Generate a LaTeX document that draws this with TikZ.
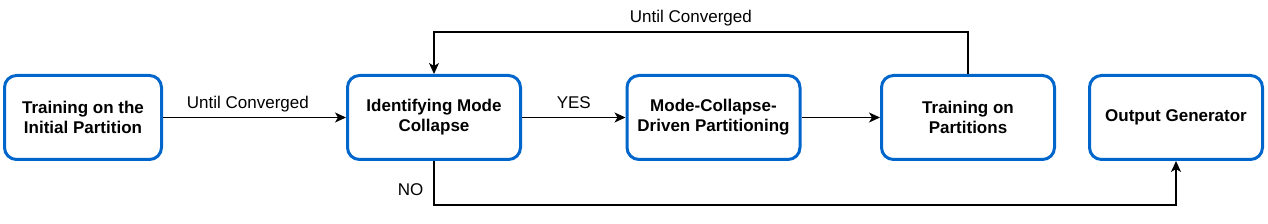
\documentclass[tikz,border=0pt]{standalone}
\usepackage{fontspec}
\setmainfont{Liberation Sans}
\usetikzlibrary{arrows.meta}

\definecolor{azulBorde}{HTML}{0066CC}

\newcommand{\coordFlujo}{
\coordinate (P1) at (83,117.5);
\coordinate (P2) at (434,117.5);
\coordinate (P3) at (713.5,117.5);
\coordinate (P4) at (968,117.5);
\coordinate (P5) at (1176,117.5);
}
\tikzset{
caja/.style={draw=azulBorde,line width=3pt,rounded corners=12pt,fill=white,minimum width=173pt,minimum height=84pt,align=center,font=\fontsize{17}{20}\selectfont\bfseries},
flecha/.style={black,line width=1.3pt,-{Stealth[length=11pt,width=10pt,inset=3pt]}},
rotulo/.style={font=\fontsize{17}{20}\selectfont,inner sep=0pt,text depth=0pt}
}

\begin{document}
\begin{tikzpicture}[x=1pt,y=-1pt]
    \useasboundingbox (0,0) rectangle (1268,224);
    \coordFlujo

    \node[caja,minimum width=157pt] (inicial) at (P1) {Training on the\\Initial Partition};
    \node[caja] (colapso) at (P2) {Identifying Mode\\Collapse};
    \node[caja] (particion) at (P3) {Mode-Collapse-\\Driven Partitioning};
    \node[caja] (entrenamiento) at (P4) {Training on\\Partitions};
    \node[caja] (salida) at (P5) {Output Generator};

    \draw[flecha] (inicial) -- node[rotulo,above=8pt,pos=0.464]{Until Converged} (colapso);
    \draw[flecha] (colapso) -- node[rotulo,above=8pt]{YES} (particion);
    \draw[flecha] (particion) -- (entrenamiento);
    \draw[flecha] (entrenamiento.north) -- (entrenamiento.north |- 0,32)
        -- node[rotulo,above=9pt,pos=0.519]{Until Converged} (colapso.north |- 0,32) -- (colapso.north);
    \draw[flecha] (colapso.south) -- node[rotulo,left=10pt,pos=0.66]{NO} (colapso.south |- 0,205)
        -- (salida.south |- 0,205) -- (salida.south);
\end{tikzpicture}
\end{document}
